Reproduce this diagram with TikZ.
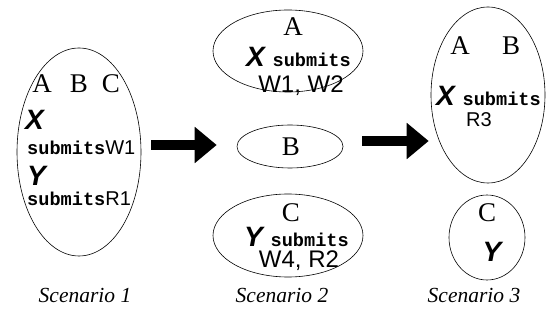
\documentclass[tikz,border=0pt]{standalone}
\usepackage{fontspec}
\setmainfont{Liberation Serif}
\newfontfamily\arialfont{Liberation Sans}
\newfontfamily\courfont{Liberation Mono}
\usetikzlibrary{shapes.geometric,arrows.meta}

% fonts for the parts of each label
\newcommand\sitefont{\rmfamily\mdseries\upshape\fontsize{27}{27}\selectfont}
\newcommand\clientfont{\arialfont\bfseries\itshape\fontsize{28}{28}\selectfont}
\newcommand\opfont{\courfont\bfseries\upshape\fontsize{18.6}{18.6}\selectfont}
\newcommand\reqfont{\arialfont\mdseries\upshape\fontsize{20}{20}\selectfont}
\newcommand\reqbigfont{\arialfont\mdseries\upshape\fontsize{24}{24}\selectfont}

\tikzset{
  region/.style={draw, ellipse, inner sep=0pt, line width=0.6pt},
  site/.style={inner sep=0pt, anchor=base, font=\sitefont},
  clientline/.style={inner sep=0pt, anchor=base west, font=\clientfont},
  reqline/.style={inner sep=0pt, anchor=base, font=\reqbigfont},
  caption/.style={inner sep=0pt, anchor=base, font=\itshape\fontsize{21.5}{21.5}\selectfont},
  movearrow/.style={line width=10pt, -{Triangle[length=22pt, width=35pt]}},
}

\begin{document}
\begin{tikzpicture}[x=1pt, y=-1pt]
\useasboundingbox (0,0) rectangle (549,320);

% partitions
\node[region, minimum width=124pt, minimum height=208pt] (s1)  at (79,152) {};
\node[region, minimum width=150pt, minimum height=82pt]  (s2a) at (288,51) {};
\node[region, minimum width=106pt, minimum height=43pt]  (s2b) at (290,146.5) {};
\node[region, minimum width=150pt, minimum height=83pt]  (s2c) at (288,235.5) {};
\node[region, minimum width=114pt, minimum height=176pt] (s3a) at (488,95) {};
\node[region, minimum width=76pt,  minimum height=85pt]  (s3b) at (487,237.5) {};

% scenario 1
\node[site] (l1a) at (42,93) {A};
\node[site] (l1b) at (79,93) {B};
\node[site] (l1c) at (111,93) {C};
\node[clientline] (x1) at (25,130) {X};
\node[clientline] (w1) at (27,155) {\opfont submits\reqfont W1};
\node[clientline] (y1) at (27,186) {Y};
\node[clientline] (r1) at (27,206) {\opfont submits\reqfont R1};

% scenario 2
\node[site] (l2a) at (293,36) {A};
\node[clientline] (x2) at (246,67) {X {\opfont submits}};
\node[reqline] (w2) at (301,93) {W1, W2};
\node[site] (l2b) at (291,156) {B};
\node[site] (l2c) at (291,222) {C};
\node[clientline] (y2) at (244,247) {Y {\opfont submits}};
\node[reqline] (w4) at (299,268) {W4, R2};

% scenario 3
\node[site] (l3a) at (460,55) {A};
\node[site] (l3b) at (511,55) {B};
\node[clientline] (x3) at (436,106) {X {\opfont submits}};
\node[reqline, font=\reqfont] (r3) at (479,127) {R3};
\node[site] (l3c) at (487,222) {C};
\node[clientline, anchor=base] (y3) at (492,262) {Y};

% transitions
\draw[movearrow] ([shift={(10,-7)}]s1.east) -- ([shift={(-20,-1.5)}]s2b.west);
\draw[movearrow] ([shift={(19,-5.5)}]s2b.east) -- ([shift={(-2,46)}]s3a.west);

% captions
\node[caption] (c1) at (85,303) {Scenario 1};
\node[caption] (c2) at (282,303) {Scenario 2};
\node[caption] (c3) at (474,303) {Scenario 3};
\end{tikzpicture}
\end{document}
